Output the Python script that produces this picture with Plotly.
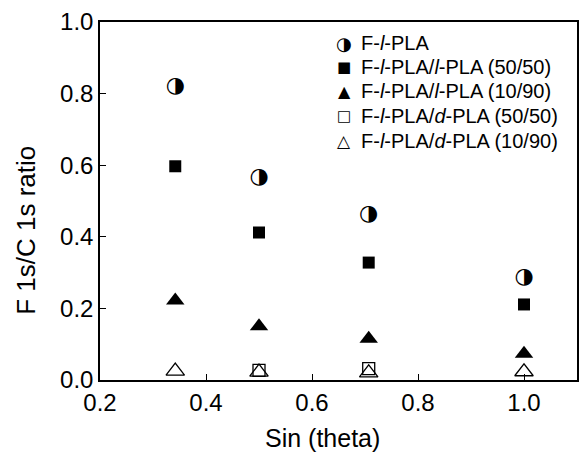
import plotly.graph_objects as go

sin_theta = [0.342, 0.5, 0.707, 1.0]
f_lpla = [0.82, 0.565, 0.462, 0.285]
f_lpla_lpla_50 = [0.597, 0.412, 0.328, 0.211]
f_lpla_lpla_10 = [0.222, 0.150, 0.115, 0.073]
f_lpla_dpla_50 = [None, 0.027, 0.032, None]
f_lpla_dpla_10 = [0.025, 0.022, 0.020, 0.023]

legend_labels = [
    "F-<i>l</i>-PLA",
    "F-<i>l</i>-PLA/<i>l</i>-PLA (50/50)",
    "F-<i>l</i>-PLA/<i>l</i>-PLA (10/90)",
    "F-<i>l</i>-PLA/<i>d</i>-PLA (50/50)",
    "F-<i>l</i>-PLA/<i>d</i>-PLA (10/90)",
]
legend_glyphs = ["◑", "■", "▲", "□", "△"]
x_title = "Sin (theta)"
y_title = "F 1s/C 1s ratio"

FONT = "Arial, Liberation Sans, Helvetica, sans-serif"

fig = go.Figure()

fig.add_trace(go.Scatter(
    x=sin_theta, y=f_lpla, mode="text", text=["◑"] * len(sin_theta),
    textposition="middle center",
    textfont=dict(family="DejaVu Sans", size=22, color="black"),
    name=legend_labels[0], showlegend=False, cliponaxis=False))
fig.add_trace(go.Scatter(
    x=sin_theta, y=f_lpla_lpla_50, mode="markers",
    marker=dict(symbol="square", size=12, color="black"),
    name=legend_labels[1], showlegend=False, cliponaxis=False))
fig.add_trace(go.Scatter(
    x=sin_theta, y=f_lpla_lpla_10, mode="markers",
    marker=dict(symbol="triangle-up", size=16, color="black"),
    name=legend_labels[2], showlegend=False, cliponaxis=False))
fig.add_trace(go.Scatter(
    x=sin_theta, y=f_lpla_dpla_50, mode="markers",
    marker=dict(symbol="square-open", size=12, color="black", line=dict(width=1.3)),
    name=legend_labels[3], showlegend=False, cliponaxis=False))
fig.add_trace(go.Scatter(
    x=sin_theta, y=f_lpla_dpla_10, mode="markers",
    marker=dict(symbol="triangle-up-open", size=16, color="black", line=dict(width=1.3)),
    name=legend_labels[4], showlegend=False, cliponaxis=False))

# manual legend (paper coordinates)
L, T, W, H = 99.5, 21.5, 479.5, 359.0
def px_x(p):
    return (p - L) / W
def px_y(p):
    return 1 - (p - T) / H

row_y = [43, 67, 91, 116, 141]
glyph_sizes = [18, 15, 16, 15, 17]
for g, lab, yy, gs in zip(legend_glyphs, legend_labels, row_y, glyph_sizes):
    fig.add_annotation(xref="paper", yref="paper", x=px_x(345), y=px_y(yy),
                       text=g, showarrow=False, xanchor="center", yanchor="middle",
                       font=dict(family="DejaVu Sans", size=gs, color="black"))
    fig.add_annotation(xref="paper", yref="paper", x=px_x(360), y=px_y(yy),
                       text=lab, showarrow=False, xanchor="left", yanchor="middle",
                       font=dict(family=FONT, size=20, color="black"))

# axis titles (offset from center as in the reference)
fig.add_annotation(xref="paper", yref="paper", x=px_x(323), y=px_y(439),
                   text=x_title, showarrow=False, xanchor="center", yanchor="middle",
                   font=dict(family=FONT, size=25, color="black"))
fig.add_annotation(xref="paper", yref="paper", x=px_x(25), y=px_y(230),
                   text=y_title, showarrow=False, xanchor="center", yanchor="middle",
                   textangle=-90,
                   font=dict(family=FONT, size=26, color="black"))

fig.update_layout(
    width=579, height=455,
    margin=dict(l=99.5, r=0, t=21.5, b=74.5),
    paper_bgcolor="white", plot_bgcolor="white",
    font=dict(family=FONT, color="black"),
    showlegend=False,
)
fig.update_xaxes(
    range=[0.2, 1.1], tickvals=[0.2, 0.4, 0.6, 0.8, 1.0],
    ticktext=["0.2", "0.4", "0.6", "0.8", "1.0"],
    ticks="inside", ticklen=6, tickwidth=1.3, tickcolor="black",
    showline=True, linecolor="black", linewidth=1.5, mirror=True,
    showgrid=False, zeroline=False,
    tickfont=dict(size=24, family=FONT),
)
fig.update_yaxes(
    range=[0, 1.0], tickvals=[0.0, 0.2, 0.4, 0.6, 0.8, 1.0],
    ticktext=["0.0", "0.2", "0.4", "0.6", "0.8", "1.0"],
    ticks="inside", ticklen=6, tickwidth=1.3, tickcolor="black",
    showline=True, linecolor="black", linewidth=1.5, mirror=True,
    showgrid=False, zeroline=False,
    tickfont=dict(size=24, family=FONT),
)

fig.write_html("out.html")
